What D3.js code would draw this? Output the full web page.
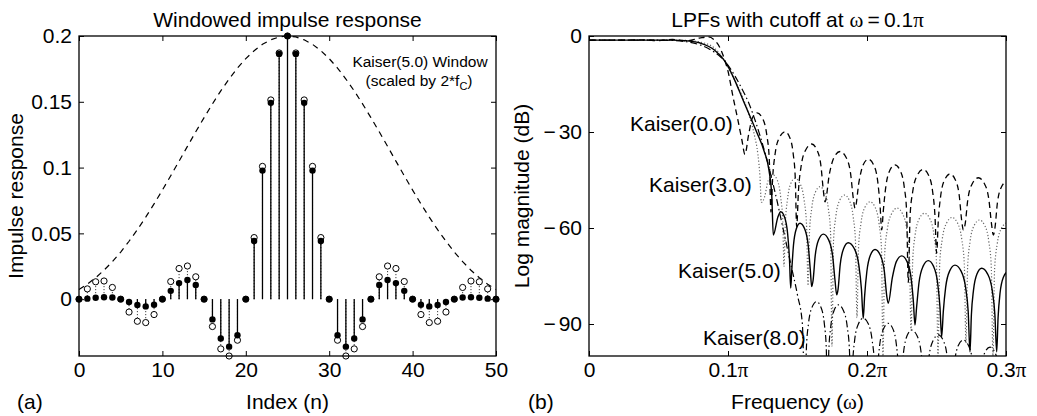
<!DOCTYPE html>
<html><head><meta charset="utf-8">
<script src="https://cdn.jsdelivr.net/npm/d3@7"></script>
<style>
body{margin:0;background:#fff;}
svg{display:block;font-family:"Liberation Sans",Arial,Helvetica,sans-serif;}
</style></head><body>
<svg id="fig" width="1037" height="416"></svg>
<script>
// ---------- (a) impulse response, n = 0..50 ----------
const indexTicks = [0, 10, 20, 30, 40, 50];
const responseTicks = [0, 0.05, 0.1, 0.15, 0.2];
const windowedResponse = [0, 0.0004, 0.0011, 0.0015, 0.0013, 0, -0.0022, -0.0044, -0.0055, -0.0042,
  0, 0.0063, 0.0122, 0.0146, 0.0108, 0, -0.0154, -0.0299, -0.0361, -0.0274,
  0, 0.0442, 0.0977, 0.1492, 0.1864, 0.2, 0.1864, 0.1492, 0.0977, 0.0442,
  0, -0.0274, -0.0361, -0.0299, -0.0154, 0, 0.0108, 0.0146, 0.0122, 0.0063,
  0, -0.0042, -0.0055, -0.0044, -0.0022, 0, 0.0013, 0.0015, 0.0011, 0.0004, 0];
const idealResponse = [0, 0.0078, 0.0132, 0.0138, 0.0089, 0, -0.0098, -0.0168, -0.0178, -0.0117,
  0, 0.0134, 0.0233, 0.0252, 0.0170, 0, -0.0208, -0.0378, -0.0432, -0.0312,
  0, 0.0468, 0.1009, 0.1514, 0.1871, 0.2, 0.1871, 0.1514, 0.1009, 0.0468,
  0, -0.0312, -0.0432, -0.0378, -0.0208, 0, 0.0170, 0.0252, 0.0233, 0.0134,
  0, -0.0117, -0.0178, -0.0168, -0.0098, 0, 0.0089, 0.0138, 0.0132, 0.0078, 0];
const kaiserWindowScaled = [0.0073, 0.0114, 0.0163, 0.0220, 0.0285, 0.0358, 0.0440, 0.0528, 0.0623, 0.0724,
  0.0829, 0.0938, 0.1049, 0.1161, 0.1272, 0.1380, 0.1484, 0.1583, 0.1673, 0.1756,
  0.1828, 0.1888, 0.1937, 0.1971, 0.1993, 0.2, 0.1993, 0.1971, 0.1937, 0.1888,
  0.1828, 0.1756, 0.1673, 0.1583, 0.1484, 0.1380, 0.1272, 0.1161, 0.1049, 0.0938,
  0.0829, 0.0724, 0.0623, 0.0528, 0.0440, 0.0358, 0.0285, 0.0220, 0.0163, 0.0114, 0.0073];

// ---------- (b) magnitude responses, [frequency / π, dB] ----------
const freqTicks = [0, 0.1, 0.2, 0.3];
const dbTicks = [0, -30, -60, -90];
const kaiser0 = [[0,-1.3],[0.02,-1.3],[0.04,-1.2],[0.05,-1.45],[0.06,-1.1],[0.07,-1.5],[0.08,-0.6],[0.086,-0.3],[0.09,-1.2],
  [0.094,-3.5],[0.098,-8],[0.1,-11],[0.1036,-19],[0.107,-26],[0.11,-32.5],[0.1122,-37],
  [0.1148,-30.9],[0.1174,-25.8],[0.1209,-24],[0.1249,-25.8],[0.1279,-30.9],[0.1297,-38.5],[0.1309,-55],
  [0.1321,-44.4],[0.1339,-36.8],[0.1370,-31.7],[0.1410,-29.9],[0.1444,-31.7],[0.1469,-36.8],[0.1484,-44.4],[0.1494,-59.6],
  [0.1507,-48.3],[0.1526,-40.7],[0.1559,-35.6],[0.1602,-33.75],[0.1640,-35.6],[0.1669,-40.7],[0.1686,-48.3],[0.1698,-51.8],
  [0.1730,-43.0],[0.1763,-37.9],[0.1806,-36.1],[0.1849,-37.9],[0.1882,-43.0],[0.1901,-50.6],[0.1914,-53.8],
  [0.1943,-45.4],[0.1972,-40.3],[0.2010,-38.5],[0.2048,-40.3],[0.2077,-45.4],[0.2094,-53.0],[0.2106,-60.6],
  [0.2117,-54.8],[0.2135,-47.2],[0.2163,-42.1],[0.2201,-40.3],[0.2239,-42.1],[0.2268,-47.2],[0.2285,-54.8],[0.2297,-77],
  [0.2310,-56.2],[0.2329,-48.6],[0.2362,-43.5],[0.2405,-41.7],[0.2443,-43.5],[0.2472,-48.6],[0.2489,-56.2],[0.2501,-67.9],
  [0.2513,-57.6],[0.2530,-50.0],[0.2559,-44.9],[0.2597,-43.1],[0.2635,-44.9],[0.2664,-50.0],[0.2681,-57.6],[0.2693,-60.6],
  [0.2706,-58.8],[0.2725,-51.2],[0.2758,-46.1],[0.2801,-44.3],[0.2844,-46.1],[0.2877,-51.2],[0.2896,-58.8],[0.2909,-62.2],
  [0.2921,-59.8],[0.2938,-52.2],[0.2968,-47.1],[0.3007,-45.3]];
const kaiser3 = [[0,-1.3],[0.06,-1.3],[0.07,-1.4],[0.08,-1.9],[0.09,-3.7],[0.098,-8],[0.105,-14],[0.11,-18.5],[0.115,-24.5],
  [0.119,-31],[0.1215,-37],[0.123,-44],[0.124,-52],
  [0.1263,-50.3],[0.1289,-45.2],[0.1324,-43.4],[0.1356,-45.2],[0.1379,-50.3],[0.1394,-57.9],[0.1403,-72],
  [0.1412,-59],[0.1427,-51.4],[0.1450,-46.3],[0.1482,-44.5],[0.1520,-46.3],[0.1548,-51.4],[0.1565,-59],[0.1576,-78],
  [0.1586,-61.6],[0.1602,-54],[0.1628,-48.9],[0.1662,-47.1],[0.1696,-48.9],[0.1722,-54],[0.1738,-61.6],[0.1748,-97],
  [0.1759,-64.2],[0.1775,-56.6],[0.1802,-51.5],[0.1838,-49.7],[0.1874,-51.5],[0.1901,-56.6],[0.1917,-64.2],[0.1928,-88],
  [0.1939,-66.3],[0.1956,-58.7],[0.1984,-53.6],[0.2022,-51.8],[0.2059,-53.6],[0.2087,-58.7],[0.2104,-66.3],[0.2115,-100],
  [0.2127,-68.3],[0.2145,-60.7],[0.2176,-55.6],[0.2216,-53.8],[0.2256,-55.6],[0.2287,-60.7],[0.2305,-68.3],[0.2317,-92],
  [0.2329,-69.9],[0.2346,-62.3],[0.2375,-57.2],[0.2414,-55.4],[0.2453,-57.2],[0.2482,-62.3],[0.2499,-69.9],[0.2511,-100],
  [0.2523,-71.2],[0.2541,-63.6],[0.2572,-58.5],[0.2612,-56.7],[0.2652,-58.5],[0.2682,-63.6],[0.2700,-71.2],[0.2712,-96],
  [0.2724,-72],[0.2741,-64.4],[0.2770,-59.3],[0.2809,-57.5],[0.2848,-59.3],[0.2877,-64.4],[0.2894,-72],[0.2906,-100],
  [0.2918,-72.8],[0.2936,-65.2],[0.2967,-60.1],[0.3007,-58.3]];
const kaiser5 = [[0,-1.3],[0.06,-1.3],[0.07,-1.5],[0.08,-2.2],[0.09,-4.3],[0.098,-8],[0.104,-13],[0.1108,-20],[0.1206,-30],
  [0.126,-36],[0.1295,-42],[0.1315,-50],[0.1326,-62.2],
  [0.1358,-56.7],[0.1379,-54.9],[0.1408,-56.7],[0.1429,-61.8],[0.1442,-69.4],[0.1451,-78.8],
  [0.1459,-73.0],[0.1471,-65.4],[0.1491,-60.3],[0.1518,-58.5],[0.1552,-60.3],[0.1577,-65.4],[0.1592,-73.0],[0.1602,-78.3],
  [0.1612,-76.4],[0.1627,-68.8],[0.1652,-63.7],[0.1686,-61.9],[0.1724,-63.7],[0.1753,-68.8],[0.1770,-76.4],[0.1782,-80.9],
  [0.1792,-79.1],[0.1807,-71.5],[0.1832,-66.4],[0.1865,-64.6],[0.1908,-66.4],[0.1941,-71.5],[0.1960,-79.1],[0.1973,-88.2],
  [0.1983,-81.2],[0.1999,-73.6],[0.2024,-68.5],[0.2058,-66.7],[0.2096,-68.5],[0.2125,-73.6],[0.2142,-81.2],[0.2153,-83.5],
  [0.2182,-75.6],[0.2211,-70.5],[0.2250,-68.7],[0.2288,-70.5],[0.2317,-75.6],[0.2334,-83.2],[0.2345,-90.3],
  [0.2357,-84.7],[0.2374,-77.1],[0.2403,-72.0],[0.2441,-70.2],[0.2479,-72.0],[0.2508,-77.1],[0.2525,-84.7],[0.2537,-94],
  [0.2549,-86.1],[0.2566,-78.5],[0.2595,-73.4],[0.2633,-71.6],[0.2676,-73.4],[0.2709,-78.5],[0.2728,-86.1],[0.2741,-98.7],
  [0.2751,-87.1],[0.2766,-79.5],[0.2791,-74.4],[0.2825,-72.6],[0.2868,-74.4],[0.2901,-79.5],[0.2920,-87.1],[0.2933,-98.7],
  [0.2943,-88],[0.2957,-80.4],[0.2982,-75.3],[0.3014,-73.5]];
const kaiser8 = [[0,-1.3],[0.05,-1.3],[0.06,-1.4],[0.07,-1.8],[0.08,-2.8],[0.09,-5],[0.098,-8],[0.105,-12.5],[0.11,-16.5],
  [0.115,-21],[0.12,-27],[0.125,-34],[0.13,-42],[0.135,-51],[0.14,-61],[0.145,-71],[0.15,-81],[0.1535,-90],[0.1554,-115],
  [0.1564,-97.5],[0.1579,-89.9],[0.1604,-84.8],[0.1638,-83],[0.1669,-84.8],[0.1693,-89.9],[0.1707,-97.5],[0.1716,-115],
  [0.1725,-98.5],[0.1739,-90.9],[0.1763,-85.8],[0.1794,-84],[0.1830,-85.8],[0.1858,-90.9],[0.1874,-98.5],[0.1885,-115],
  [0.1896,-102.7],[0.1911,-95.1],[0.1938,-90],[0.1973,-88.2],[0.2010,-90],[0.2037,-95.1],[0.2054,-102.7],[0.2065,-115],
  [0.2076,-104.3],[0.2091,-96.7],[0.2118,-91.6],[0.2153,-89.8],[0.2187,-91.6],[0.2212,-96.7],[0.2227,-104.3],[0.2237,-115],
  [0.2247,-106.4],[0.2263,-98.8],[0.2288,-93.7],[0.2322,-91.9],[0.2360,-93.7],[0.2389,-98.8],[0.2406,-106.4],[0.2417,-115],
  [0.2429,-107.9],[0.2446,-100.3],[0.2475,-95.2],[0.2513,-93.4],[0.2549,-95.2],[0.2577,-100.3],[0.2593,-107.9],[0.2604,-115],
  [0.2630,-101.9],[0.2656,-96.8],[0.2691,-95],[0.2731,-96.8],[0.2761,-101.9],[0.2791,-115],
  [0.2819,-104.1],[0.2847,-99],[0.2885,-97.2],[0.2922,-99],[0.2950,-104.1],[0.2978,-115],[0.3,-106]];

const svg = d3.select("#fig");
const FS = 21;
const sans = '"Liberation Sans",Arial,sans-serif';
const serif = '"Liberation Serif","DejaVu Serif",serif';

function frame(g, x, y) {
  const [x0, x1] = x.range(), [y1, y0] = y.range();
  g.append("rect").attr("x", x0).attr("y", y0).attr("width", x1 - x0).attr("height", y1 - y0)
    .attr("fill", "none").attr("stroke", "#000").attr("stroke-width", 1.3);
}

// inward ticks on all four sides, labels on bottom and left
function axes(g, x, y, xt, yt, xfmt, yfmt) {
  const [x0, x1] = x.range(), [y1, y0] = y.range();
  const ax = g.append("g").attr("transform", `translate(0,${y1})`)
    .call(d3.axisBottom(x).tickValues(xt).tickSize(-5).tickPadding(6).tickFormat(xfmt));
  const ay = g.append("g").attr("transform", `translate(${x0},0)`)
    .call(d3.axisLeft(y).tickValues(yt).tickSize(-5).tickPadding(7).tickFormat(yfmt));
  const axT = g.append("g").attr("transform", `translate(0,${y0})`)
    .call(d3.axisTop(x).tickValues(xt).tickSize(-5).tickFormat(""));
  const ayR = g.append("g").attr("transform", `translate(${x1},0)`)
    .call(d3.axisRight(y).tickValues(yt).tickSize(-5).tickFormat(""));
  [ax, ay, axT, ayR].forEach(a => {
    a.select(".domain").remove();
    a.selectAll("line").attr("stroke", "#000").attr("stroke-width", 1);
    a.selectAll("text").attr("fill", "#000").style("font-size", FS + "px").style("font-family", sans);
  });
  return {ax, ay};
}

// ---------- panel (a) ----------
const xa = d3.scaleLinear().domain([0, 50]).range([79, 496]);
const ya = d3.scaleLinear().domain([-0.0432, 0.2]).range([356, 36]);
const ga = svg.append("g");

axes(ga, xa, ya, indexTicks, responseTicks, d3.format("d"), d => String(d));

// Kaiser window outline
ga.append("path").datum(kaiserWindowScaled)
  .attr("d", d3.line().x((d, i) => xa(i)).y(d => ya(d)))
  .attr("fill", "none").attr("stroke", "#000").attr("stroke-width", 1.2).attr("stroke-dasharray", "6,5");

// unwindowed sinc: dotted stems with open circles
ga.append("g").selectAll("line").data(idealResponse).join("line")
  .attr("x1", (d, i) => xa(i)).attr("x2", (d, i) => xa(i))
  .attr("y1", ya(0)).attr("y2", d => ya(d))
  .attr("stroke", "#000").attr("stroke-width", 0.9).attr("stroke-dasharray", "1,2");
ga.append("g").selectAll("circle").data(idealResponse).join("circle")
  .attr("cx", (d, i) => xa(i)).attr("cy", d => ya(d)).attr("r", 3.1)
  .attr("fill", "#fff").attr("stroke", "#000").attr("stroke-width", 1);

// windowed response: solid stems with filled markers
ga.append("g").selectAll("line").data(windowedResponse).join("line")
  .attr("x1", (d, i) => xa(i)).attr("x2", (d, i) => xa(i))
  .attr("y1", ya(0)).attr("y2", d => ya(d))
  .attr("stroke", "#000").attr("stroke-width", 1.3);
ga.append("g").selectAll("circle").data(windowedResponse).join("circle")
  .attr("cx", (d, i) => xa(i)).attr("cy", d => ya(d)).attr("r", 3.2)
  .attr("fill", "#000");

frame(ga, xa, ya);

ga.append("text").attr("x", 287.5).attr("y", 27).attr("text-anchor", "middle")
  .style("font-size", FS + "px").text("Windowed impulse response");
ga.append("text").attr("transform", "translate(23,196) rotate(-90)").attr("text-anchor", "middle")
  .style("font-size", FS + "px").text("Impulse response");
ga.append("text").attr("x", 287.5).attr("y", 409).attr("text-anchor", "middle")
  .style("font-size", FS + "px").text("Index (n)");
ga.append("text").attr("x", 17).attr("y", 409).style("font-size", FS + "px").text("(a)");
const ann = ga.append("text").attr("text-anchor", "middle").style("font-size", "15.5px");
ann.append("tspan").attr("x", 420).attr("y", 67).text("Kaiser(5.0) Window");
const ann2 = ga.append("text").attr("x", 419).attr("y", 86).attr("text-anchor", "middle").style("font-size", "15.5px");
ann2.append("tspan").text("(scaled by 2*f");
ann2.append("tspan").attr("dy", 4).style("font-size", "11px").text("C");
ann2.append("tspan").attr("dy", -4).text(")");

// ---------- panel (b) ----------
const xb = d3.scaleLinear().domain([0, 0.3]).range([589, 1006]);
const yb = d3.scaleLinear().domain([-100, 0]).range([356, 36]);
const gb = svg.append("g");
const B = axes(gb, xb, yb, freqTicks, dbTicks, d => d === 0 ? "0" : d.toFixed(1), d => String(d));

B.ax.selectAll("text").each(function(d) {
  if (d === 0) return;
  const t = d3.select(this).text("");
  t.append("tspan").text(d.toFixed(1));
  t.append("tspan").style("font-family", serif).text("\u03c0");
});
B.ay.selectAll("text").each(function(d) {
  if (d === 0) return;
  const t = d3.select(this).text("");
  t.append("tspan").text("\u2212");
  t.append("tspan").attr("dx", 3).text(Math.abs(d));
});

gb.append("clipPath").attr("id", "clipb").append("rect")
  .attr("x", 589).attr("y", 36).attr("width", 417).attr("height", 320);
const plot = gb.append("g").attr("clip-path", "url(#clipb)");
const line = d3.line().x(d => xb(d[0])).y(d => yb(d[1])).curve(d3.curveMonotoneX);
const curves = [
  {data: kaiser3, stroke: "#666", width: 1.2, dash: "1.2,2"},
  {data: kaiser8, stroke: "#000", width: 1.2, dash: "7,3,1.5,3"},
  {data: kaiser0, stroke: "#000", width: 1.3, dash: "6,4"},
  {data: kaiser5, stroke: "#000", width: 1.4, dash: null}
];
curves.forEach(c => plot.append("path").datum(c.data).attr("d", line)
  .attr("fill", "none").attr("stroke", c.stroke).attr("stroke-width", c.width)
  .attr("stroke-dasharray", c.dash));

frame(gb, xb, yb);

const tb = gb.append("text").attr("x", 797.5).attr("y", 27).attr("text-anchor", "middle").style("font-size", FS + "px");
tb.append("tspan").text("LPFs with cutoff at ");
tb.append("tspan").style("font-family", serif).text("\u03c9");
tb.append("tspan").text("\u2009=\u20090.1");
tb.append("tspan").style("font-family", serif).text("\u03c0");
gb.append("text").attr("transform", "translate(529,196) rotate(-90)").attr("text-anchor", "middle")
  .style("font-size", FS + "px").text("Log magnitude (dB)");
const fl = gb.append("text").attr("x", 797.5).attr("y", 409).attr("text-anchor", "middle").style("font-size", FS + "px");
fl.append("tspan").text("Frequency (");
fl.append("tspan").style("font-family", serif).text("\u03c9");
fl.append("tspan").text(")");
gb.append("text").attr("x", 528).attr("y", 409).style("font-size", FS + "px").text("(b)");

const curveLabels = [
  {text: "Kaiser(0.0)", f: 0.0295, db: -27.5},
  {text: "Kaiser(3.0)", f: 0.0432, db: -46.5},
  {text: "Kaiser(5.0)", f: 0.064, db: -73.5},
  {text: "Kaiser(8.0)", f: 0.082, db: -94.5}
];
gb.append("g").selectAll("text").data(curveLabels).join("text")
  .attr("x", d => xb(d.f)).attr("y", d => yb(d.db) + 7)
  .style("font-size", FS + "px").text(d => d.text);
</script>
</body></html>
